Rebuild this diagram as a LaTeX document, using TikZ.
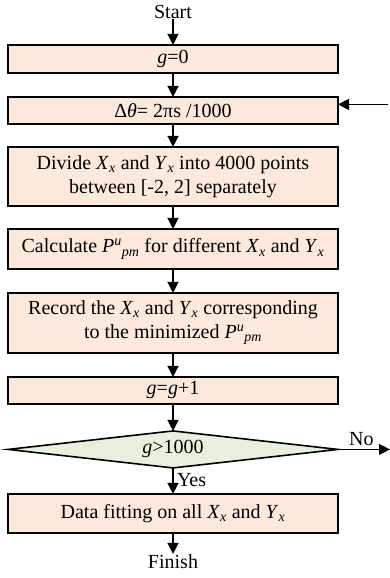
\documentclass[tikz,border=0pt]{standalone}
\usepackage{fontspec}
\setmainfont{Liberation Serif}
\usepackage{xcolor}
\usepackage{tikz}
\usetikzlibrary{shapes.geometric,arrows.meta,positioning}
\definecolor{peach}{RGB}{252,233,219}
\definecolor{palegreen}{RGB}{231,240,220}

\begin{document}
\begin{tikzpicture}[x=1pt, y=1pt, font=\fontsize{20}{24}\selectfont,
    box/.style={rectangle, draw, line width=1.6pt, fill=peach, minimum width=330pt, align=center, inner sep=2pt, outer sep=0pt},
    test/.style={diamond, draw, line width=1.6pt, fill=palegreen, aspect=9, inner sep=0pt, outer sep=0pt, minimum width=330pt, minimum height=37pt},
    arr/.style={-{Triangle[length=11pt,width=11pt]}, line width=1.4pt}]
    \useasboundingbox (0,0) rectangle (390,-578);
    \node [inner sep=0pt] (start) at (173,-12) {Start};
    \node [box, minimum height=28pt, below=26pt of start] (init) {\textit{g}=0};
    \node [box, minimum height=27pt, below=24pt of init] (theta) {Δ\textit{θ}= 2πs /1000};
    \node [box, minimum height=59pt, below=23pt of theta] (divide) {Divide \textit{X}\textsubscript{\textit{x}} and \textit{Y}\textsubscript{\textit{x}} into 4000 points\\between [-2, 2] separately};
    \node [box, minimum height=40pt, below=23pt of divide] (calc) {Calculate \textit{P}\textsuperscript{\textit{u}}\textsubscript{\textit{pm}} for different \textit{X}\textsubscript{\textit{x}} and \textit{Y}\textsubscript{\textit{x}}};
    \node [box, minimum height=60pt, below=24pt of calc] (record) {Record the \textit{X}\textsubscript{\textit{x}} and \textit{Y}\textsubscript{\textit{x}} corresponding\\to the minimized \textit{P}\textsuperscript{\textit{u}}\textsubscript{\textit{pm}}};
    \node [box, minimum height=27pt, below=24pt of record] (incr) {\textit{g}=\textit{g}+1};
    \node [test, below=27pt of incr] (check) {\textit{g}>1000};
    \node [box, minimum height=39pt, below=26pt of check] (fit) {Data fitting on all \textit{X}\textsubscript{\textit{x}} and \textit{Y}\textsubscript{\textit{x}}};
    \node [inner sep=0pt, below=21pt of fit] (finish) {Finish};
    \coordinate (loopin) at ([xshift=50pt, yshift=6pt]theta.east);
    \coordinate (noout) at ([xshift=52pt]check.east);

    \draw [arr] (start) -- (init);
    \draw [arr] (init) -- (theta);
    \draw [arr] (loopin) -- ([yshift=6pt]theta.east);
    \draw [arr] (theta) -- (divide);
    \draw [arr] (divide) -- (calc);
    \draw [arr] (calc) -- (record);
    \draw [arr] (record) -- (incr);
    \draw [arr] (incr) -- (check);
    \draw [arr] (check.east) -- node[above, pos=0.45] {No} (noout);
    \draw [arr] (check.south) -- node[right, pos=0.45] {Yes} (fit);
    \draw [arr] (fit) -- (finish);
\end{tikzpicture}
\end{document}
